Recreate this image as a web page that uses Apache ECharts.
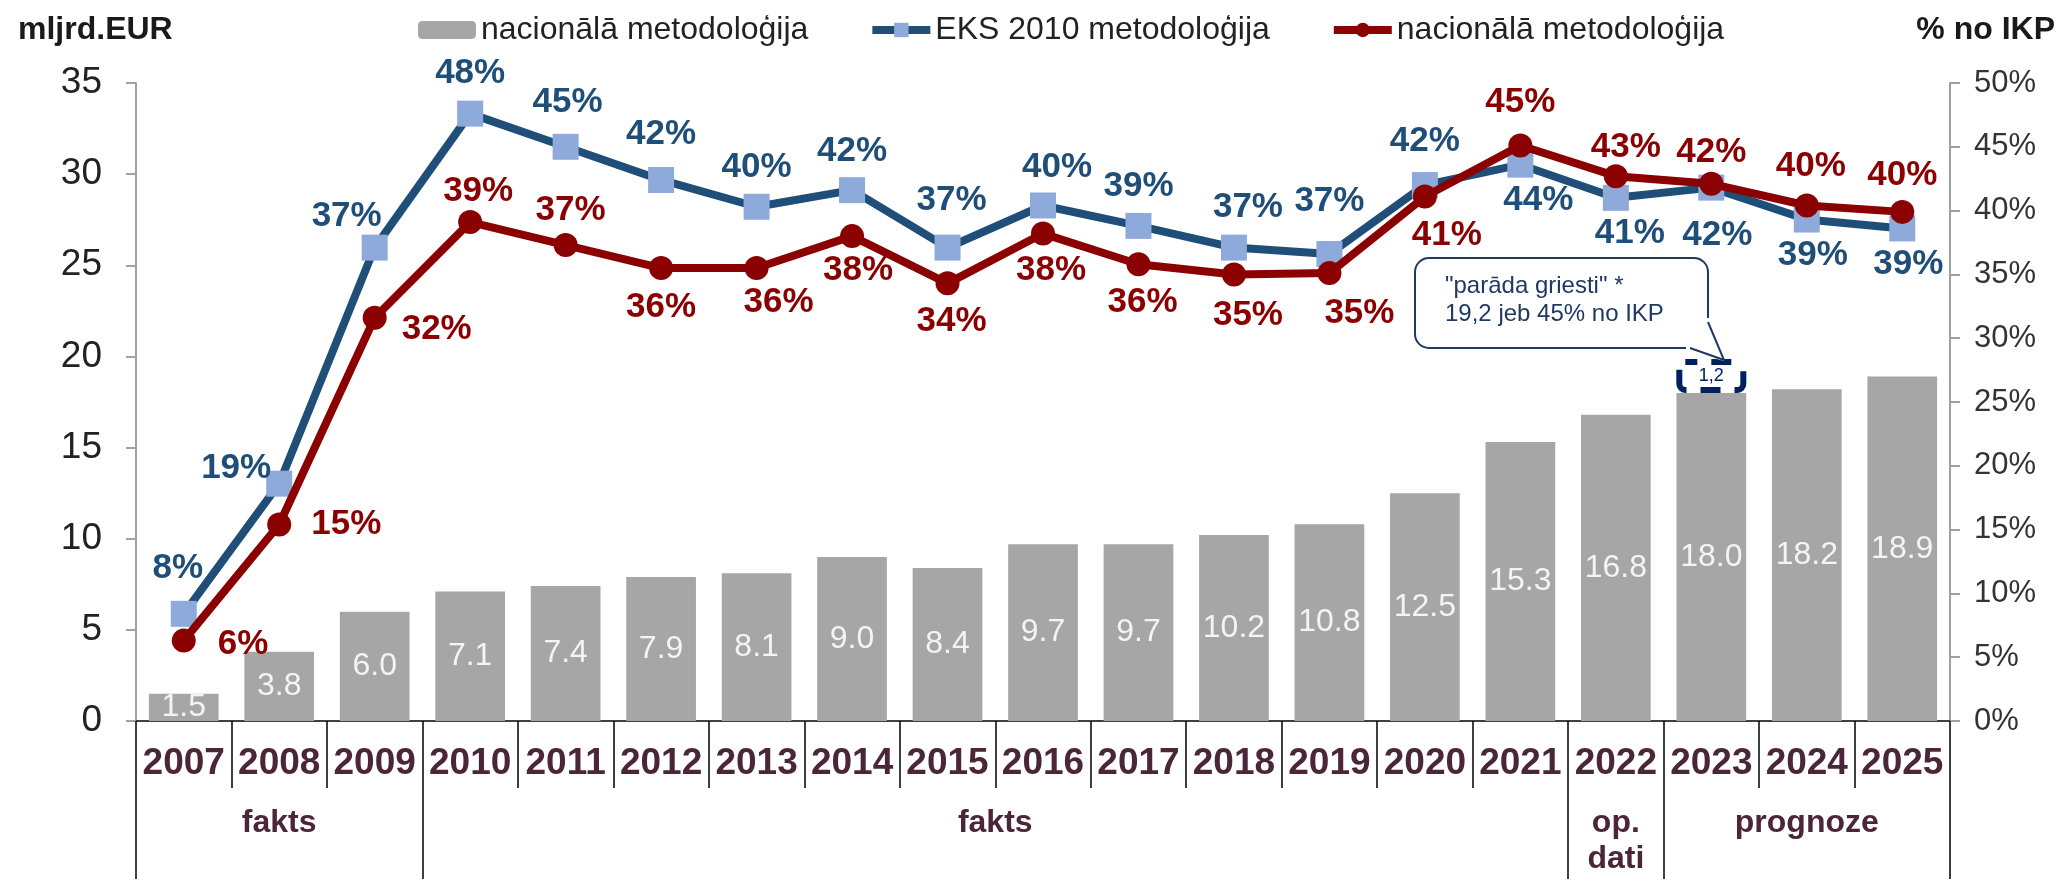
<!DOCTYPE html>
<html>
    <head>
        <meta charset="utf-8">
        <script src="https://cdn.jsdelivr.net/npm/echarts@6/dist/echarts.min.js"></script>
    </head>
    <body>
        <style>
            html, body, #main {
                width: 100%;
                height: 100%;
                margin: 0;
                background: #fff;
            }
        </style>
        <div id="main"></div>
        <script>

            var years = ['2007', '2008', '2009', '2010', '2011', '2012', '2013', '2014', '2015', '2016',
                '2017', '2018', '2019', '2020', '2021', '2022', '2023', '2024', '2025'];

            // mljrd.EUR, nacionālā metodoloģija
            var debtEur = [1.5, 3.8, 6.0, 7.1, 7.4, 7.9, 8.1, 9.0, 8.4, 9.7,
                9.7, 10.2, 10.8, 12.5, 15.3, 16.8, 18.0, 18.2, 18.9];

            // "parāda griesti" 19,2 -> 1,2 above the 2023 bar
            var ceilingGap = [null, null, null, null, null, null, null, null, null, null,
                null, null, null, null, null, null, 1.2, null, null];

            // % no IKP
            var eksPct = [8.4, 18.6, 37.1, 47.6, 45.0, 42.4, 40.3, 41.6, 37.1, 40.4,
                38.8, 37.1, 36.6, 42.0, 43.6, 41.0, 41.8, 39.3, 38.6];
            var natPct = [6.3, 15.4, 31.6, 39.1, 37.3, 35.5, 35.5, 38.0, 34.3, 38.2,
                35.8, 35.0, 35.1, 41.1, 45.1, 42.7, 42.1, 40.4, 39.9];

            // period groups under the year row
            var groupNames = ['fakts', 'fakts', 'op.\ndati', 'prognoze'];
            var groupSpans = [3, 12, 1, 3];

            // label placement of the line values
            var eksLabelPos = ['top', 'left', 'top', 'top', 'top', 'top', 'top', 'top', 'top', 'top',
                'top', 'top', 'top', 'top', 'bottom', 'bottom', 'bottom', 'bottom', 'bottom'];
            var eksLabelOff = [[-6, -10], [10, -15], [-28, 4], [0, -5], [2, -9], [0, -10], [0, -4], [0, -3], [4, -12], [14, -3],
                [0, -4], [14, -5], [0, -17], [0, -8], [18, 0], [14, 0], [6, 12], [6, 0], [6, 0]];
            var natLabelPos = ['right', 'right', 'right', 'top', 'top', 'bottom', 'bottom', 'bottom', 'bottom', 'bottom',
                'bottom', 'bottom', 'bottom', 'bottom', 'top', 'top', 'top', 'top', 'top'];
            var natLabelOff = [[17, 4], [15, 0], [10, 12], [8, 4], [5, 0], [0, 5], [22, 0], [6, 0], [4, 4], [8, 2],
                [4, 4], [14, 6], [30, 6], [22, 4], [0, -9], [10, 6], [0, 3], [4, -5], [0, -2]];

            var FONT = '"Liberation Sans", Arial, sans-serif';
            var MAROON = '#4b2638';
            var BLUE = '#1f4e79';
            var RED = '#8b0000';
            var NAVY = '#1f3864';

            var groupBounds = [0];
            var groupCenters = [];
            groupSpans.forEach(function (s, i) {
                groupCenters.push(groupBounds[i] + s / 2);
                groupBounds.push(groupBounds[i] + s);
            });

            function lineData(values, pos, off) {
                return values.map(function (v, i) {
                    return {
                        value: v,
                        label: { position: pos[i], offset: off[i] }
                    };
                });
            }

            var chart = echarts.init(document.getElementById('main'));

            chart.setOption({
                animation: false,
                textStyle: { fontFamily: FONT },
                title: [{
                    text: 'mljrd.EUR',
                    left: 13,
                    top: 9,
                    textStyle: { fontFamily: FONT, fontSize: 32, fontWeight: 'bold', color: '#1a1a1a' }
                }, {
                    text: '% no IKP',
                    right: 10,
                    top: 9,
                    textStyle: { fontFamily: FONT, fontSize: 32, fontWeight: 'bold', color: '#1a1a1a' }
                }],
                legend: {
                    left: 413,
                    top: 9,
                    itemWidth: 58,
                    itemHeight: 18,
                    itemGap: 60,
                    textStyle: { fontFamily: FONT, fontSize: 32, color: '#222' },
                    data: [
                        { name: 'nacionālā metodoloģija' },
                        { name: 'EKS 2010 metodoloģija', lineStyle: { width: 8 }, itemStyle: { color: '#8eaadb' } },
                        { name: 'nacionālā metodoloģija\u200b', lineStyle: { width: 8 } }
                    ]
                },
                grid: {
                    left: 136,
                    right: 120,
                    top: 83,
                    bottom: 158
                },
                xAxis: [{
                    type: 'category',
                    data: years,
                    axisLine: { lineStyle: { color: '#404040', width: 2 } },
                    axisTick: { show: true, interval: 0, length: 67, lineStyle: { color: '#000', width: 1.5 } },
                    axisLabel: {
                        interval: 0,
                        margin: 24,
                        fontFamily: FONT,
                        fontSize: 37,
                        fontWeight: 'bold',
                        color: MAROON
                    }
                }, {
                    type: 'value',
                    min: 0,
                    max: years.length,
                    position: 'bottom',
                    axisLine: { show: false },
                    splitLine: { show: false },
                    axisTick: {
                        show: true,
                        length: 160,
                        customValues: groupBounds,
                        lineStyle: { color: '#000', width: 1.5 }
                    },
                    axisLabel: {
                        customValues: groupCenters,
                        margin: 84,
                        fontFamily: FONT,
                        fontSize: 32,
                        lineHeight: 36,
                        fontWeight: 'bold',
                        color: MAROON,
                        formatter: function (v) {
                            return groupNames[groupCenters.indexOf(v)];
                        }
                    }
                }],
                yAxis: [{
                    type: 'value',
                    min: 0,
                    max: 35,
                    interval: 5,
                    axisLine: { show: true, lineStyle: { color: '#a0a0a0', width: 2 } },
                    axisTick: { show: true, length: 10, lineStyle: { color: '#a0a0a0', width: 2 } },
                    splitLine: { show: false },
                    axisLabel: {
                        margin: 34,
                        fontFamily: FONT,
                        fontSize: 37,
                        color: '#222'
                    }
                }, {
                    type: 'value',
                    min: 0,
                    max: 50,
                    interval: 5,
                    position: 'right',
                    axisLine: { show: true, lineStyle: { color: '#a0a0a0', width: 2 } },
                    axisTick: { show: true, length: 10, lineStyle: { color: '#a0a0a0', width: 2 } },
                    splitLine: { show: false },
                    axisLabel: {
                        margin: 24,
                        fontFamily: FONT,
                        fontSize: 31,
                        color: '#333',
                        formatter: '{value}%'
                    }
                }],
                series: [{
                    name: 'nacionālā metodoloģija',
                    type: 'bar',
                    stack: 'debt',
                    data: debtEur,
                    barCategoryGap: '27%',
                    itemStyle: { color: '#a6a6a6' },
                    label: {
                        show: true,
                        position: 'inside',
                        fontFamily: FONT,
                        fontSize: 32,
                        color: '#f4f4f4',
                        formatter: function (p) { return p.value.toFixed(1); }
                    },
                    z: 1
                }, {
                    name: 'griesti',
                    type: 'bar',
                    stack: 'debt',
                    data: ceilingGap,
                    itemStyle: { color: 'rgba(0,0,0,0)' },
                    label: {
                        show: true,
                        position: 'inside',
                        offset: [0, -6],
                        width: 58,
                        height: 22,
                        align: 'center',
                        verticalAlign: 'middle',
                        backgroundColor: '#fff',
                        borderColor: '#002060',
                        borderWidth: 6,
                        borderType: [20, 14],
                        borderDashOffset: 8,
                        borderRadius: 3,
                        fontFamily: FONT,
                        fontSize: 18,
                        color: '#002060',
                        formatter: function (p) { return String(p.value).replace('.', ','); }
                    },
                    z: 2
                }, {
                    name: 'EKS 2010 metodoloģija',
                    type: 'line',
                    yAxisIndex: 1,
                    data: lineData(eksPct, eksLabelPos, eksLabelOff),
                    symbol: 'rect',
                    symbolSize: 26,
                    lineStyle: { color: BLUE, width: 8 },
                    itemStyle: { color: '#8eaadb' },
                    label: {
                        show: true,
                        distance: 5,
                        fontFamily: FONT,
                        fontSize: 35,
                        fontWeight: 'bold',
                        color: BLUE,
                        formatter: function (p) { return Math.round(p.value) + '%'; }
                    },
                    z: 3
                }, {
                    name: 'nacionālā metodoloģija\u200b',
                    type: 'line',
                    yAxisIndex: 1,
                    data: lineData(natPct, natLabelPos, natLabelOff),
                    symbol: 'circle',
                    symbolSize: 24,
                    lineStyle: { color: RED, width: 8 },
                    itemStyle: { color: RED },
                    label: {
                        show: true,
                        distance: 5,
                        fontFamily: FONT,
                        fontSize: 35,
                        fontWeight: 'bold',
                        color: RED,
                        formatter: function (p) { return Math.round(p.value) + '%'; }
                    },
                    z: 4
                }],
                graphic: [{
                    type: 'rect',
                    shape: { x: 1415, y: 258, width: 293, height: 90, r: 14 },
                    style: { fill: '#fff', stroke: NAVY, lineWidth: 2 },
                    z: 10
                }, {
                    type: 'polygon',
                    shape: { points: [[1686, 351], [1724, 361], [1711, 318], [1700, 318], [1686, 340]] },
                    style: { fill: '#fff' },
                    z: 11
                }, {
                    type: 'polyline',
                    shape: { points: [[1690, 348], [1724, 360], [1708, 322]] },
                    style: { fill: null, stroke: NAVY, lineWidth: 2 },
                    z: 12
                }, {
                    type: 'text',
                    x: 1445,
                    y: 272,
                    style: {
                        text: '"parāda griesti" *\n19,2 jeb 45% no IKP',
                        align: 'left',
                        font: '24px "Liberation Sans", Arial, sans-serif',
                        lineHeight: 28,
                        fill: NAVY
                    },
                    z: 12
                }]
            });

        </script>
    </body>
</html>
